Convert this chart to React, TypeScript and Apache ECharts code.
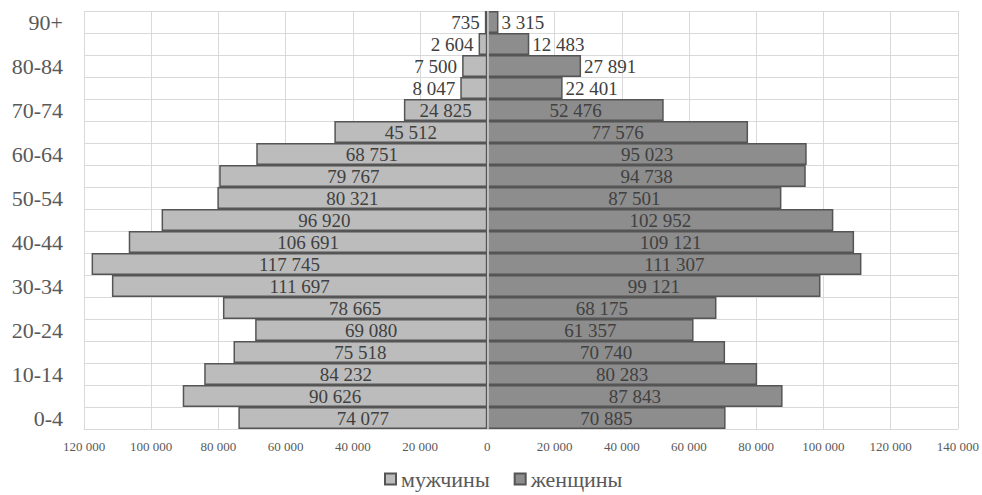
import React, { useEffect, useRef } from "react";
import * as echarts from "echarts";

const categories = ["0-4", "5-9", "10-14", "15-19", "20-24", "25-29", "30-34", "35-39", "40-44", "45-49", "50-54", "55-59", "60-64", "65-69", "70-74", "75-79", "80-84", "85-89", "90+"];
const men = [74077, 90626, 84232, 75518, 69080, 78665, 111697, 117745, 106691, 96920, 80321, 79767, 68751, 45512, 24825, 8047, 7500, 2604, 735];
const women = [70885, 87843, 80283, 70740, 61357, 68175, 99121, 111307, 109121, 102952, 87501, 94738, 95023, 77576, 52476, 22401, 27891, 12483, 3315];
const seriesNames = ["мужчины", "женщины"];

const FONT = "Liberation Serif";
const fmt = (v: number) => Math.abs(v).toString().replace(/\B(?=(\d{3})+(?!\d))/g, " ");

export default function App() {
  const ref = useRef<HTMLDivElement>(null);
  useEffect(() => {
    document.body.style.margin = "0";
    const chart = echarts.init(ref.current!, null, { renderer: "svg" });
    const labelBase = { show: true, color: "#404040", fontSize: 19, fontFamily: FONT, formatter: (p: any) => fmt(p.value) };
    chart.setOption({
      animation: false,
      backgroundColor: "#ffffff",
      textStyle: { fontFamily: FONT },
      grid: { left: 84, right: 22, top: 11, bottom: 66 },
      legend: {
        bottom: 0,
        left: 379,
        itemWidth: 11,
        itemHeight: 11,
        itemGap: 24,
        icon: "rect",
        textStyle: { fontFamily: FONT, fontSize: 22, color: "#595959" },
        data: seriesNames,
      },
      xAxis: {
        type: "value",
        min: -120000,
        max: 140000,
        interval: 20000,
        axisLine: { show: true, lineStyle: { color: "#d9d9d9" } },
        axisTick: { show: false },
        splitLine: { show: true, lineStyle: { color: "#d9d9d9", width: 1 } },
        axisLabel: { formatter: (v: number) => fmt(v), fontFamily: FONT, fontSize: 13, color: "#595959", margin: 11 },
      },
      yAxis: {
        type: "category",
        data: categories,
        axisLine: { show: false },
        axisTick: { show: false, interval: 0 },
        splitLine: { show: true, interval: 0, lineStyle: { color: "#d9d9d9", width: 1 } },
        axisLabel: { interval: 1, fontFamily: FONT, fontSize: 22, color: "#595959", margin: 21 },
      },
      series: [
        {
          name: seriesNames[0],
          type: "bar",
          barGap: "-100%",
          barCategoryGap: "0%",
          itemStyle: { color: "#bcbcbc", borderColor: "#555555", borderWidth: 1.5 },
          data: men.map((v) => ({
            value: -v,
            label: v < 10000 ? { ...labelBase, position: "left", distance: 5 } : { ...labelBase, position: "inside" },
          })),
        },
        {
          name: seriesNames[1],
          type: "bar",
          barGap: "-100%",
          barCategoryGap: "0%",
          itemStyle: { color: "#8d8d8d", borderColor: "#555555", borderWidth: 1.5 },
          data: women.map((v) => ({
            value: v,
            label: v < 30000 ? { ...labelBase, position: "right", distance: 3 } : { ...labelBase, position: "inside" },
          })),
          markLine: {
            silent: true,
            symbol: "none",
            label: { show: false },
            lineStyle: { color: "#d9d9d9", width: 1.5, type: "solid" },
            data: [{ xAxis: 0 }],
          },
        },
      ],
    });
    return () => chart.dispose();
  }, []);
  return <div ref={ref} style={{ width: 982, height: 495 }} />;
}
